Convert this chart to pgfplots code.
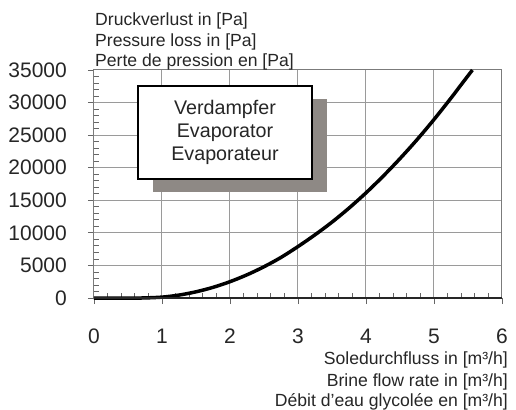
\documentclass[border=0pt]{standalone}
\usepackage{fontspec}
\setmainfont{Liberation Sans}
\usepackage{pgfplots}
\pgfplotsset{compat=1.18}
\definecolor{gridgray}{HTML}{9A9A9A}
\definecolor{shadowgray}{HTML}{8E8985}
\newcommand{\titlefont}{\fontsize{17.6bp}{21bp}\selectfont}
\newcommand{\tickfont}{\fontsize{21bp}{24bp}\selectfont}
\newcommand{\boxfont}{\fontsize{19.7bp}{23bp}\selectfont}
\begin{document}
\begin{tikzpicture}
\path[use as bounding box] (-94bp,-112bp) rectangle (422bp,298bp);
\begin{axis}[
  scale only axis, width=408bp, height=228bp,
  anchor=south west, at={(0,0)},
  xmin=0, xmax=6, ymin=0, ymax=35000,
  xtick={0,1,2,3,4,5,6},
  ytick={0,5000,10000,15000,20000,25000,30000,35000},
  minor x tick num=4, minor y tick num=4,
  grid=major,
  major grid style={gridgray, line width=1bp},
  axis line style={gridgray!80!black, line width=1bp},
  tick pos=left, tick align=outside,
  major tick length=6bp, minor tick length=-5bp,
  every tick/.style={black!60, line width=0.8bp},
  scaled y ticks=false,
  /pgf/number format/assume math mode=true,
  /pgf/number format/set thousands separator={},
  tick label style={font=\tickfont, text=black!85},
  xticklabel style={anchor=base, inner sep=0pt, yshift=-39bp},
  yticklabel style={anchor=east, inner sep=0pt, xshift=-21bp},
  clip=false,
]
\addplot[black, line width=3.5bp, smooth] coordinates {
  (0,0) (0.35,0) (0.7,0) (1,133) (1.25,448) (1.5,950) (1.75,1634)
  (2,2505) (2.25,3560) (2.5,4800) (2.75,6230) (3,7900) (3.25,9700)
  (3.5,11650) (3.75,13800) (4,16140) (4.25,18680) (4.5,21400)
  (4.75,24300) (5,27400) (5.25,30690) (5.4,32750) (5.565,35000)
};
\draw[black!85, line width=1.6bp] (axis cs:0,0) -- (axis cs:6,0);
\end{axis}
\node[anchor=base west, inner sep=0pt, font=\titlefont, text=black!85] at (1bp,272bp) {Druckverlust in [Pa]};
\node[anchor=base west, inner sep=0pt, font=\titlefont, text=black!85] at (1bp,251bp) {Pressure loss in [Pa]};
\node[anchor=base west, inner sep=0pt, font=\titlefont, text=black!85] at (1bp,231bp) {Perte de pression en [Pa]};
\node[anchor=base east, inner sep=0pt, font=\titlefont, text=black!85] at (414bp,-66bp) {Soledurchfluss in [m³/h]};
\node[anchor=base east, inner sep=0pt, font=\titlefont, text=black!85] at (414bp,-88bp) {Brine flow rate in [m³/h]};
\node[anchor=base east, inner sep=0pt, font=\titlefont, text=black!85] at (414bp,-108bp) {Débit d'eau glycolée en [m³/h]};
\fill[shadowgray] (59bp,106bp) rectangle (233bp,199bp);
\draw[fill=white, line width=1.5bp] (44bp,119bp) rectangle (218bp,212bp);
\node[align=center, inner sep=0pt, font=\boxfont, text=black!85] at (131bp,166bp) {Verdampfer\\Evaporator\\Evaporateur};
\end{tikzpicture}
\end{document}
